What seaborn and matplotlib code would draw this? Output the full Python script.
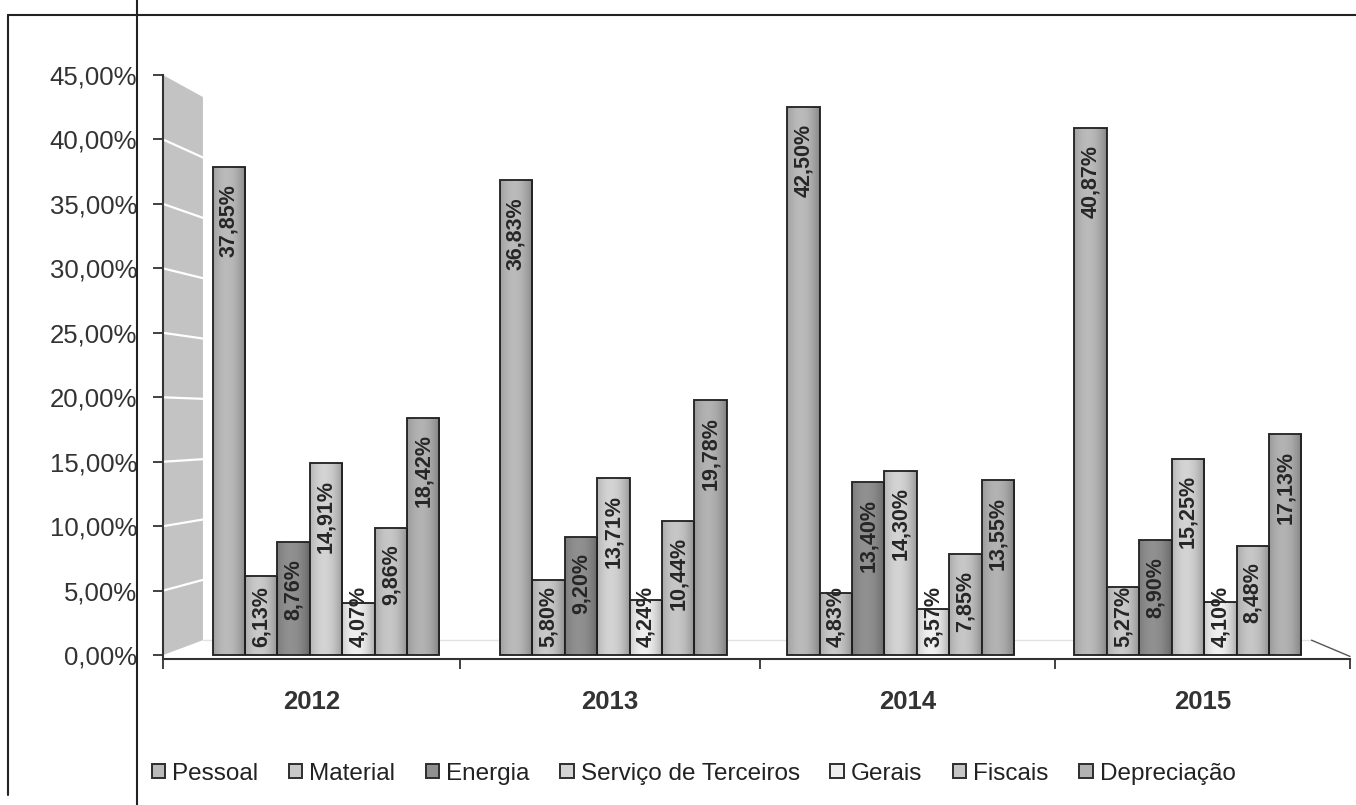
import numpy as np
import pandas as pd
import matplotlib
matplotlib.use('Agg')
import matplotlib.pyplot as plt
import seaborn as sns
from matplotlib.lines import Line2D
from matplotlib.patches import Polygon
from matplotlib.transforms import ScaledTranslation

# ---------------- data ----------------
years = ['2012', '2013', '2014', '2015']
categories = ['Pessoal', 'Material', 'Energia', 'Serviço de Terceiros',
              'Gerais', 'Fiscais', 'Depreciação']
pessoal = [37.85, 36.83, 42.50, 40.87]
material = [6.13, 5.80, 4.83, 5.27]
energia = [8.76, 9.20, 13.40, 8.90]
servico = [14.91, 13.71, 14.30, 15.25]
gerais = [4.07, 4.24, 3.57, 4.10]
fiscais = [9.86, 10.44, 7.85, 8.48]
depreciacao = [18.42, 19.78, 13.55, 17.13]
y_ticks = [0, 5, 10, 15, 20, 25, 30, 35, 40, 45]

colors = ['#bababa', '#c9c9c9', '#909090', '#d3d3d3', '#efefef', '#c6c6c6', '#b2b2b2']

series = [pessoal, material, energia, servico, gerais, fiscais, depreciacao]
df = pd.DataFrame([{'Ano': y, 'Categoria': c, 'Valor': v}
                   for c, vals in zip(categories, series)
                   for y, v in zip(years, vals)])


def fmt(v):
    return f"{v:.2f}".replace('.', ',') + '%'


sns.set_theme(style='white')
plt.rcParams['font.family'] = ['Liberation Sans', 'DejaVu Sans']

W, H = 1356, 805
fig = plt.figure(figsize=(W / 100, H / 100), dpi=100)
ax = fig.add_axes([163 / W, (H - 659) / H, 1187 / W, 584 / H])

sns.barplot(data=df, x='Ano', y='Valor', hue='Categoria', hue_order=categories,
            order=years, palette=colors, width=0.79, edgecolor='#2e2e2e',
            linewidth=1.4, saturation=1, errorbar=None, ax=ax)

handles, labels = ax.get_legend_handles_labels()
if ax.legend_ is not None:
    ax.legend_.remove()

XL, XR = -0.5673, 3.564
YB, YT = -0.3, 45.0

# cylindrical shading on each bar
tt = np.linspace(0, 1, 64)
grad = np.zeros((1, 64, 4))
grad[..., 3] = 0.28 * np.clip(np.abs(tt - 0.42) / 0.58, 0, 1) ** 2
for cont in ax.containers:
    for bar in cont:
        x0, w, h = bar.get_x(), bar.get_width(), bar.get_height()
        im = ax.imshow(grad, extent=[x0, x0 + w, 0, h], aspect='auto',
                       zorder=bar.get_zorder() + 0.1, interpolation='bilinear')
        im.set_clip_path(bar)

# 3D side wall
wall_w = 0.139
xw0, xw1 = XL, XL + wall_w
wall = Polygon([(xw0, 0), (xw1, 1.16), (xw1, 43.29), (xw0, 45)], closed=True,
               facecolor='#c3c3c3', edgecolor='none', zorder=0.5)
ax.add_patch(wall)
for v in y_ticks[1:-1]:
    ax.plot([xw0, xw1], [v, 1.16 + 0.936 * v], color='white', lw=1.6, zorder=0.6)
# floor hints
ax.plot([xw1, 3.43], [1.16, 1.16], color='#e2e2e2', lw=1.0, zorder=0.4)
ax.plot([3.43, XR], [1.16, -0.1], color='#555555', lw=1.0, zorder=0.4, clip_on=False)

ax.set_xlim(XL, XR)
ax.set_ylim(YB, YT)

# axes styling
for s in ['top', 'right']:
    ax.spines[s].set_visible(False)
for s in ['left', 'bottom']:
    ax.spines[s].set_color('#333333')
    ax.spines[s].set_linewidth(1.5)
ax.set_xlabel('')
ax.set_ylabel('')

ax.set_yticks(y_ticks)
ax.set_yticklabels([fmt(v) for v in y_ticks])
ax.tick_params(axis='y', left=True, length=7, width=1.3, color='#333333',
               pad=11.5, labelsize=18.5, labelcolor='#333333')

# category boundaries of the (flat) category axis and year labels centred between them
bounds = [XL, 0.466, 1.511, 2.537, XR]
centers = [(a + b) / 2 for a, b in zip(bounds[:-1], bounds[1:])]
ax.set_xticks(bounds, labels=[''] * len(bounds))
ax.set_xticks(centers, labels=years, minor=True)
ax.tick_params(axis='x', which='major', bottom=True, length=7, width=1.3,
               color='#333333', direction='out')
ax.tick_params(axis='x', which='minor', bottom=True, length=0, pad=22,
               labelsize=18.5, labelcolor='#333333')
for lbl in ax.get_xticklabels(minor=True):
    lbl.set_fontweight('bold')

# value labels
off = ScaledTranslation(0, -12 / 72, fig.dpi_scale_trans)
texts = []
for cont in ax.containers:
    for bar, v in zip(cont, cont.datavalues):
        xc = bar.get_x() + bar.get_width() / 2
        t = ax.text(xc, v, fmt(v), rotation=90, ha='center', va='top',
                    fontsize=15.5, fontweight='bold', color='#262626',
                    transform=ax.transData + off, zorder=6)
        texts.append(t)

fig.canvas.draw()
r = fig.canvas.get_renderer()
base_disp = ax.transData.transform((0, 0))[1]
for t in texts:
    bb = t.get_window_extent(r)
    if bb.y0 < base_disp + 10:
        t.set_va('bottom')
        t.set_y(0)
        t.set_transform(ax.transData + ScaledTranslation(0, 0.08, fig.dpi_scale_trans))

# legend
leg = fig.legend(handles, labels, loc='center', bbox_to_anchor=(0.5115, 0.039),
                 ncol=7, frameon=False, fontsize=17.5, handlelength=0.55,
                 handleheight=0.55, handletextpad=0.3, columnspacing=1.25)
for txt in leg.get_texts():
    txt.set_color('#222222')

# page frame lines from the scanned document
fig.add_artist(Line2D([8 / W, 1], [1 - 15 / H, 1 - 15 / H], transform=fig.transFigure,
                      color='#222222', lw=1.5))
fig.add_artist(Line2D([8 / W, 8 / W], [1 - 15 / H, 10 / H], transform=fig.transFigure,
                      color='#222222', lw=1.5))
fig.add_artist(Line2D([137 / W, 137 / W], [0, 1], transform=fig.transFigure,
                      color='#222222', lw=1.5))

fig.savefig('out.png', dpi=100)
